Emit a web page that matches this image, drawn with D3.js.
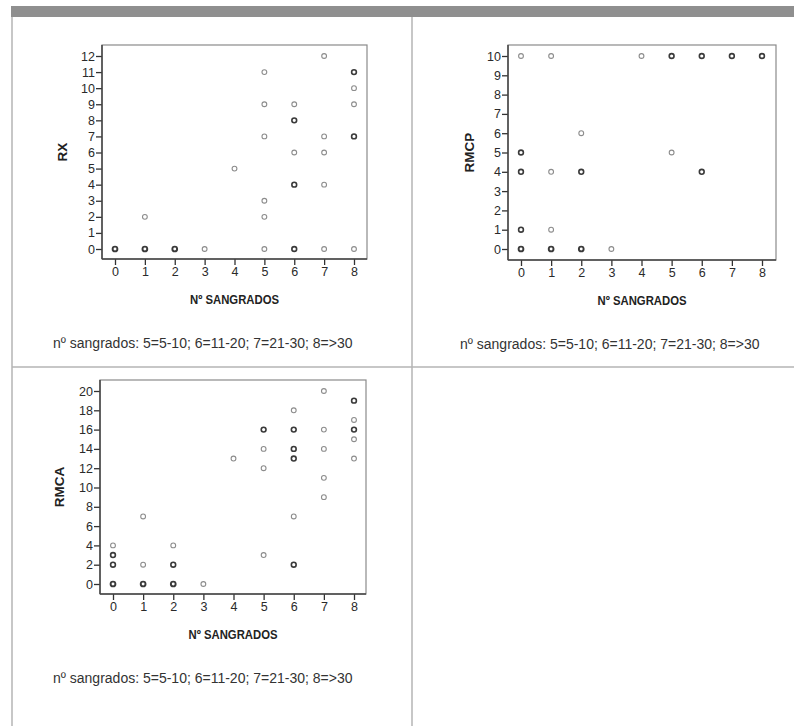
<!DOCTYPE html>
<html>
<head>
<meta charset="utf-8">
<script src="https://cdn.jsdelivr.net/npm/d3@7"></script>
<style>
  body { margin: 0; background: #fff; }
  svg { display: block; font-family: "Liberation Sans", Arial, sans-serif; }
</style>
</head>
<body>
<div id="chart"></div>
<script>
// nº sangrados categories (x axis)
const sangrados = [0, 1, 2, 3, 4, 5, 6, 7, 8];

// each point: [nº sangrados, value, overlapping cases]
const rxPoints = [
  [0, 0, 3], [1, 0, 3], [1, 2, 1], [2, 0, 3], [3, 0, 1], [4, 5, 1],
  [5, 11, 1], [5, 9, 1], [5, 7, 1], [5, 3, 1], [5, 2, 1], [5, 0, 1],
  [6, 9, 1], [6, 8, 2], [6, 6, 1], [6, 4, 2], [6, 0, 2],
  [7, 12, 1], [7, 7, 1], [7, 6, 1], [7, 4, 1], [7, 0, 1],
  [8, 11, 2], [8, 10, 1], [8, 9, 1], [8, 7, 2], [8, 0, 1],
];
const rmcpPoints = [
  [0, 10, 1], [0, 5, 2], [0, 4, 2], [0, 1, 2], [0, 0, 3],
  [1, 10, 1], [1, 4, 1], [1, 1, 1], [1, 0, 3],
  [2, 6, 1], [2, 4, 2], [2, 0, 3], [3, 0, 1], [4, 10, 1],
  [5, 10, 2], [5, 5, 1], [6, 10, 2], [6, 4, 2], [7, 10, 2], [8, 10, 2],
];
const rmcaPoints = [
  [0, 4, 1], [0, 3, 2], [0, 2, 2], [0, 0, 3],
  [1, 7, 1], [1, 2, 1], [1, 0, 3],
  [2, 4, 1], [2, 2, 2], [2, 0, 3], [3, 0, 1], [4, 13, 1],
  [5, 16, 2], [5, 14, 1], [5, 12, 1], [5, 3, 1],
  [6, 18, 1], [6, 16, 2], [6, 14, 2], [6, 13, 2], [6, 7, 1], [6, 2, 2],
  [7, 20, 1], [7, 16, 1], [7, 14, 1], [7, 11, 1], [7, 9, 1],
  [8, 19, 2], [8, 17, 1], [8, 16, 2], [8, 15, 1], [8, 13, 1],
];

const rxTicks = d3.range(0, 13, 1);
const rmcpTicks = d3.range(0, 11, 1);
const rmcaTicks = d3.range(0, 21, 2);

const xTitle = 'Nº SANGRADOS';
const note = 'nº sangrados: 5=5-10; 6=11-20; 7=21-30; 8=>30';

const width = 794;
const height = 726;

const svg = d3
  .select('#chart')
  .append('svg')
  .attr('width', width)
  .attr('height', height);

// table frame like the original page
svg.append('rect')
  .attr('x', 11).attr('y', 6)
  .attr('width', width - 11).attr('height', 11)
  .attr('fill', '#8f8f8f');

const grid = svg.append('g')
  .attr('stroke', '#b4b4b4')
  .attr('stroke-width', 1.5);
grid.append('line').attr('x1', 12).attr('x2', 12).attr('y1', 17).attr('y2', height);
grid.append('line').attr('x1', 412).attr('x2', 412).attr('y1', 17).attr('y2', height);
grid.append('line').attr('x1', 12).attr('x2', width).attr('y1', 367).attr('y2', 367);

function drawPlot(cfg) {
  const g = svg.append('g');

  const x = d3.scaleLinear()
    .domain([0, 8])
    .range([cfg.x0, cfg.x1]);
  const y = d3.scaleLinear()
    .domain([0, cfg.yMax])
    .range([cfg.y0, cfg.y1]);

  // box
  g.append('rect')
    .attr('x', cfg.left).attr('y', cfg.top)
    .attr('width', cfg.right - cfg.left)
    .attr('height', cfg.bottom - cfg.top)
    .attr('fill', 'none')
    .attr('stroke', '#8a8a8a')
    .attr('stroke-width', 1.2);

  const yAxis = g.append('g')
    .attr('transform', `translate(${cfg.left},0)`)
    .call(d3.axisLeft(y).tickValues(cfg.ticks).tickSize(6).tickPadding(1).tickFormat(d3.format('d')));
  const xAxis = g.append('g')
    .attr('transform', `translate(0,${cfg.bottom})`)
    .call(d3.axisBottom(x).tickValues(sangrados).tickSize(6).tickPadding(2).tickFormat(d3.format('d')));

  [yAxis, xAxis].forEach((a) => {
    a.select('.domain').remove();
    a.selectAll('line').attr('stroke', '#333').attr('stroke-width', 1.3);
    a.selectAll('text')
      .attr('fill', '#2a2a2a')
      .style('font-size', '12.5px')
      .style('font-family', '"Liberation Sans", Arial, sans-serif');
  });

  g.append('line')
    .attr('x1', cfg.left).attr('x2', cfg.left)
    .attr('y1', cfg.top).attr('y2', cfg.bottom)
    .attr('stroke', '#444').attr('stroke-width', 1.5);
  g.append('line')
    .attr('x1', cfg.left).attr('x2', cfg.right)
    .attr('y1', cfg.bottom).attr('y2', cfg.bottom)
    .attr('stroke', '#444').attr('stroke-width', 1.5);

  g.append('g')
    .selectAll('circle')
    .data(cfg.points)
    .join('circle')
    .attr('cx', (d) => x(d[0]))
    .attr('cy', (d) => y(d[1]))
    .attr('r', 2.4)
    .attr('fill', 'none')
    .attr('stroke', (d) => (d[2] > 1 ? '#3a3a3a' : '#8c8c8c'))
    .attr('stroke-width', (d) => (d[2] > 2 ? 1.9 : d[2] > 1 ? 1.6 : 1.1));

  g.append('text')
    .attr('transform', `translate(${cfg.labelX},${(cfg.top + cfg.bottom) / 2}) rotate(-90)`)
    .attr('text-anchor', 'middle')
    .attr('font-weight', 'bold')
    .attr('font-size', 13.5)
    .attr('fill', '#222')
    .text(cfg.label);

  // condensed bold title, as in the original
  g.append('text')
    .attr('transform', `translate(${(cfg.left + cfg.right) / 2},${cfg.bottom + 45}) scale(0.84,1)`)
    .attr('text-anchor', 'middle')
    .attr('font-weight', 'bold')
    .attr('font-size', 13.5)
    .attr('fill', '#222')
    .text(xTitle);

  g.append('text')
    .attr('x', cfg.noteX)
    .attr('y', cfg.bottom + 89)
    .attr('font-size', 14)
    .attr('fill', '#333')
    .text(note);
}

drawPlot({
  points: rxPoints, ticks: rxTicks, yMax: 12, label: 'RX',
  left: 102, right: 367, top: 45, bottom: 259,
  x0: 115, x1: 354, y0: 249, y1: 56, labelX: 67, noteX: 53,
});
drawPlot({
  points: rmcpPoints, ticks: rmcpTicks, yMax: 10, label: 'RMCP',
  left: 508, right: 776, top: 45, bottom: 260,
  x0: 521, x1: 762, y0: 249, y1: 56, labelX: 474, noteX: 460,
});
drawPlot({
  points: rmcaPoints, ticks: rmcaTicks, yMax: 20, label: 'RMCA',
  left: 100, right: 366, top: 380, bottom: 594,
  x0: 113, x1: 354, y0: 584, y1: 391, labelX: 64, noteX: 53,
});
</script>
</body>
</html>
